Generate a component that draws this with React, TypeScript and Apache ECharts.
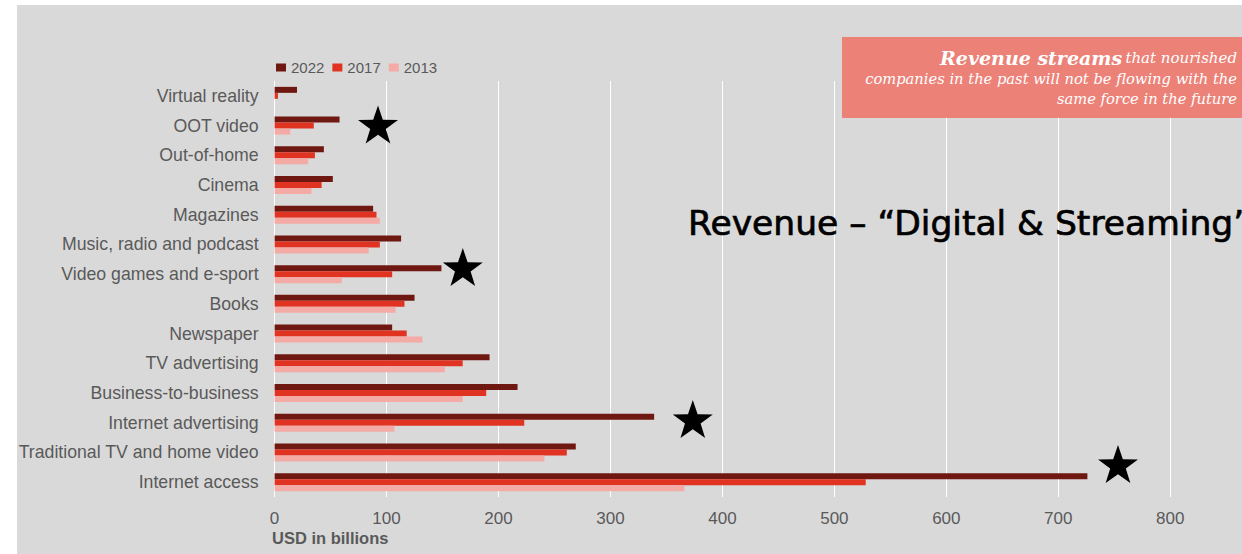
import React, { useEffect, useRef } from "react";
import * as echarts from "echarts";

// Categories listed bottom → top (ECharts category y-axis grows upward)
const categories = [
  "Internet access",
  "Traditional TV and home video",
  "Internet advertising",
  "Business-to-business",
  "TV advertising",
  "Newspaper",
  "Books",
  "Video games and e-sport",
  "Music, radio and podcast",
  "Magazines",
  "Cinema",
  "Out-of-home",
  "OOT video",
  "Virtual reality",
];

const values2022 = [726, 269, 339, 217, 192, 105, 125, 149, 113, 88, 52, 44, 58, 20];
const values2017 = [528, 261, 223, 189, 168, 118, 116, 105, 94, 91, 42, 36, 35, 3];
const values2013 = [366, 241, 107, 168, 152, 132, 108, 60, 84, 94, 33, 30, 14, 0];

const seriesNames = ["2022", "2017", "2013"];
const xTicksMax = 900;
const xInterval = 100;
const xLabelMax = 800;

const COLORS: Record<string, string> = {
  "2022": "#6f1711",
  "2017": "#e13322",
  "2013": "#f4aaa5",
};

const starPoints = (cx: number, cy: number, R: number, r: number) => {
  const pts: number[][] = [];
  for (let i = 0; i < 10; i++) {
    const rad = i % 2 === 0 ? R : r;
    const a = -Math.PI / 2 + (i * Math.PI) / 5;
    pts.push([cx + rad * Math.cos(a), cy + rad * Math.sin(a)]);
  }
  return pts;
};

const starCenters = [
  [378, 126.5],
  [462.8, 269],
  [692.8, 421],
  [1118, 466],
];

export default function App() {
  const ref = useRef<HTMLDivElement>(null);

  useEffect(() => {
    if (!ref.current) return;
    const chart = echarts.init(ref.current, null, { renderer: "svg" });
    const font = "'Liberation Sans', Arial, sans-serif";
    const serif = "'DejaVu Serif', Georgia, serif";
    const dataBySeries: Record<string, number[]> = {
      "2022": values2022,
      "2017": values2017,
      "2013": values2013,
    };
    chart.setOption({
      animation: false,
      backgroundColor: "transparent",
      legend: {
        data: seriesNames,
        left: 276,
        top: 60,
        padding: 0,
        itemWidth: 10,
        itemHeight: 8,
        itemGap: 8,
        icon: "rect",
        textStyle: { color: "#595959", fontSize: 15, fontFamily: font },
      },
      grid: { left: 274.6, top: 81, width: 1007.6, height: 416 },
      xAxis: {
        type: "value",
        min: 0,
        max: xTicksMax,
        interval: xInterval,
        axisLine: { show: false },
        axisTick: { show: false },
        splitLine: { show: true, lineStyle: { color: "#ffffff", width: 1 } },
        axisLabel: {
          color: "#595959",
          fontSize: 17,
          fontFamily: font,
          margin: 13,
          formatter: (v: number) => (v > xLabelMax ? "" : String(v)),
        },
      },
      yAxis: {
        type: "category",
        data: categories,
        axisLine: { show: false },
        axisTick: { show: false },
        axisLabel: { color: "#595959", fontSize: 17.7, fontFamily: font, margin: 16 },
      },
      series: seriesNames.map((n) => ({
        name: n,
        type: "bar",
        data: dataBySeries[n],
        barWidth: 6,
        barGap: "0%",
        itemStyle: { color: COLORS[n] },
      })),
      graphic: [
        {
          type: "rect",
          z: -10,
          silent: true,
          shape: { x: 17, y: 5, width: 1400, height: 600 },
          style: { fill: "#d9d9d9" },
        },
        {
          type: "rect",
          shape: { x: 842, y: 37, width: 500, height: 81 },
          style: { fill: "#ec8178" },
          z: 10,
        },
        {
          type: "text",
          x: 1237,
          y: 58,
          z: 11,
          style: {
            text: "{b|Revenue streams} {i|that nourished}",
            align: "right",
            verticalAlign: "middle",
            rich: {
              b: {
                fontFamily: serif,
                fontStyle: "italic",
                fontWeight: "bold",
                fontSize: 19,
                fill: "#ffffff",
              },
              i: {
                fontFamily: serif,
                fontStyle: "italic",
                fontSize: 15,
                fill: "#ffffff",
              },
            },
          },
        },
        {
          type: "text",
          x: 1237,
          y: 78,
          z: 11,
          style: {
            text: "companies in the past will not be flowing with the",
            align: "right",
            verticalAlign: "middle",
            fontFamily: serif,
            fontStyle: "italic",
            fontSize: 14.7,
            fill: "#ffffff",
          },
        },
        {
          type: "text",
          x: 1237,
          y: 98,
          z: 11,
          style: {
            text: "same force in the future",
            align: "right",
            verticalAlign: "middle",
            fontFamily: serif,
            fontStyle: "italic",
            fontSize: 14.7,
            fill: "#ffffff",
          },
        },
        {
          type: "text",
          x: 688,
          y: 223,
          z: 11,
          style: {
            text: "Revenue – “Digital & Streaming”",
            align: "left",
            verticalAlign: "middle",
            fontFamily: "'DejaVu Sans', sans-serif",
            fontSize: 34.5,
            fill: "#000000",
            stroke: "#000000",
            lineWidth: 0.7,
          },
        },
        {
          type: "text",
          x: 272,
          y: 538,
          z: 11,
          style: {
            text: "USD in billions",
            align: "left",
            verticalAlign: "middle",
            fontFamily: font,
            fontWeight: "bold",
            fontSize: 16.5,
            fill: "#595959",
          },
        },
        ...starCenters.map(([cx, cy]) => ({
          type: "polygon",
          z: 12,
          shape: { points: starPoints(cx, cy, 21, 8.2) },
          style: { fill: "#000000" },
        })),
      ],
    });
    return () => chart.dispose();
  }, []);

  return (
    <div
      style={{
        position: "fixed",
        left: 0,
        top: 0,
        width: 1242,
        height: 554,
        overflow: "hidden",
        background: "#ffffff",
      }}
    >
      <div ref={ref} style={{ width: 1300, height: 554 }} />
    </div>
  );
}
